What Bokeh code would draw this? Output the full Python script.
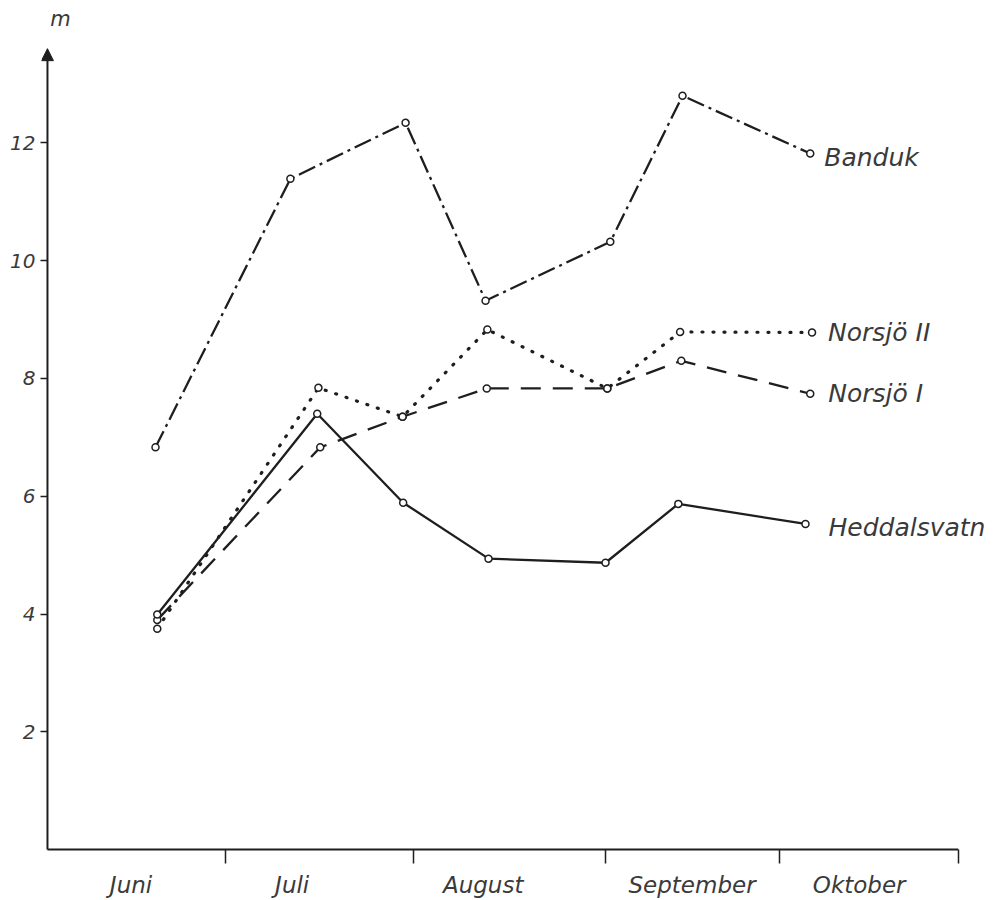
from bokeh.plotting import figure
from bokeh.models import (ColumnDataSource, LabelSet, Label, FixedTicker,
                          Arrow, NormalHead, Range1d)
from bokeh.core.properties import value
from bokeh.embed import file_html
from bokeh.resources import INLINE

# ---- data (x = days counted from 1 June, y = metres) ----
months = ["Juni", "Juli", "August", "September", "Oktober"]
month_label_pos = [14, 41, 73, 108, 136]
month_bounds = [29.8, 61.3, 93.5, 122.6, 152.6]
y_ticks = [2, 4, 6, 8, 10, 12]

banduk_x = [18.1, 40.7, 60.0, 73.4, 94.3, 106.4, 127.8]
banduk_y = [6.83, 11.39, 12.34, 9.32, 10.32, 12.80, 11.82]

norsjo2_x = [18.4, 45.4, 59.5, 73.7, 93.8, 106.0, 128.1]
norsjo2_y = [3.75, 7.84, 7.35, 8.83, 7.83, 8.79, 8.78]

norsjo1_x = [18.4, 45.7, 59.5, 73.6, 93.8, 106.2, 127.8]
norsjo1_y = [3.90, 6.83, 7.35, 7.83, 7.83, 8.30, 7.74]

hedd_x = [18.4, 45.2, 59.6, 73.9, 93.5, 105.7, 127.0]
hedd_y = [3.99, 7.40, 5.89, 4.94, 4.87, 5.87, 5.53]

series_names = ["Banduk", "Norsjö II", "Norsjö I", "Heddalsvatn"]

AXIS_END_X = 152.6
AXIS_END_Y = 13.6

INK = "#1e1e1e"
TXT = "#3a3a3a"
FONT = "DejaVu Sans"

p = figure(frame_width=949, frame_height=848,
           x_range=Range1d(-1.0, 158.0), y_range=Range1d(-0.05, 14.35),
           output_backend="svg", toolbar_location=None,
           min_border_left=41, min_border_right=6,
           min_border_top=4, min_border_bottom=47)
p.outline_line_color = None
p.grid.visible = False
p.background_fill_color = "white"
p.border_fill_color = "white"

# x axis (line drawn separately at y = 0)
p.xaxis.ticker = FixedTicker(ticks=month_label_pos, minor_ticks=month_bounds)
p.xaxis.major_label_overrides = {pos: name for pos, name in zip(month_label_pos, months)}
p.xaxis.major_tick_out = 0
p.xaxis.major_tick_in = 0
p.xaxis.minor_tick_out = 11
p.xaxis.minor_tick_in = 3
p.xaxis.minor_tick_line_width = 1.5
p.xaxis.minor_tick_line_color = INK
p.xaxis.major_label_standoff = 8
p.xaxis.major_label_text_font = FONT
p.xaxis.major_label_text_font_size = "23px"
p.xaxis.major_label_text_font_style = "italic"
p.xaxis.major_label_text_color = TXT

# y axis (line drawn separately at x = 0)
p.yaxis.ticker = FixedTicker(ticks=y_ticks)
p.yaxis.major_tick_out = 1
p.yaxis.major_tick_in = 6
p.yaxis.major_tick_line_width = 1.5
p.yaxis.major_tick_line_color = INK
p.yaxis.minor_tick_line_color = None
p.yaxis.major_label_standoff = 5
p.yaxis.major_label_text_font = FONT
p.yaxis.major_label_text_font_size = "20px"
p.yaxis.major_label_text_font_style = "italic"
p.yaxis.major_label_text_color = TXT

for ax in (p.xaxis, p.yaxis):
    ax.axis_line_color = None

# axis lines (y with arrow head)
p.add_layout(Arrow(end=None, x_start=0, y_start=0, x_end=AXIS_END_X, y_end=0,
                   line_color=INK, line_width=2))
p.add_layout(Arrow(end=NormalHead(size=12, fill_color=INK, line_color=INK, line_width=1),
                   x_start=0, y_start=0, x_end=0, y_end=AXIS_END_Y,
                   line_color=INK, line_width=2))
p.add_layout(Label(x=2.2, y=14.11, text="m", text_font=FONT,
                   text_font_size="21px", text_font_style="italic",
                   text_color=TXT, text_align="center", text_baseline="middle"))

# series
styles = [
    (banduk_x, banduk_y, "18 5 3 5", "butt", 2.3),
    (norsjo2_x, norsjo2_y, "1 10", "round", 3.2),
    (norsjo1_x, norsjo1_y, "20 12", "butt", 2.3),
    (hedd_x, hedd_y, "solid", "butt", 2.3),
]
for xs, ys, dash, cap, lw in styles:
    p.line(xs, ys, line_color=INK, line_width=lw, line_dash=dash, line_cap=cap)
    p.scatter(xs, ys, marker="circle", size=7, fill_color="white",
              line_color=INK, line_width=1.5)

lab_src = ColumnDataSource(dict(
    x=[banduk_x[-1], norsjo2_x[-1], norsjo1_x[-1], hedd_x[-1]],
    y=[banduk_y[-1], norsjo2_y[-1], norsjo1_y[-1], hedd_y[-1]],
    text=series_names,
    dx=[14, 16, 18, 23],
    dy=[-4, 0, 0, -4],
))
p.add_layout(LabelSet(x="x", y="y", text="text", source=lab_src,
                      x_offset="dx", y_offset="dy",
                      text_font=value(FONT), text_font_size=value("25px"),
                      text_font_style="italic", text_color=TXT,
                      text_baseline="middle", text_align="left"))

open("out.html", "w").write(file_html(p, INLINE))
